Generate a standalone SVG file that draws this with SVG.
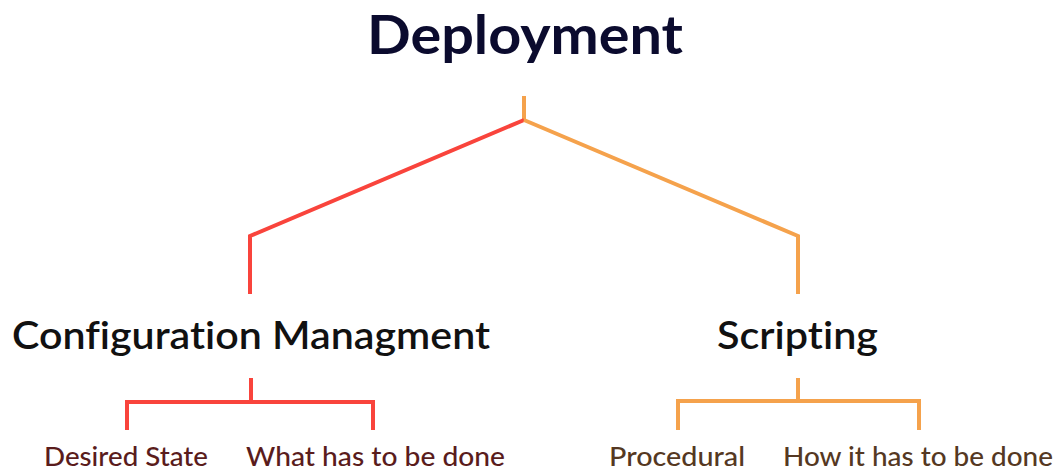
<svg xmlns="http://www.w3.org/2000/svg" width="1059" height="473" viewBox="0 0 1059 473">
  <style>
    text { font-variant-ligatures: none; font-feature-settings: "liga" 0, "clig" 0; }
    .title { font-family: "Lato", "Liberation Sans", sans-serif; font-weight: 700; font-size: 53px; fill: #0b0b2e; }
    .branch { font-family: "Lato", "Liberation Sans", sans-serif; font-weight: 600; font-size: 38px; fill: #111111; }
    .leaf { font-family: "Lato", "Liberation Sans", sans-serif; font-weight: 500; font-size: 26px; }
    .leaf-cm { fill: #5a1c1c; }
    .leaf-sc { fill: #553822; }
    .red { stroke: #f9443c; }
    .orange { stroke: #f5a24c; }
    .conn { fill: none; stroke-width: 4; stroke-linejoin: miter; }
  </style>
  <rect width="1059" height="473" fill="#ffffff"/>

  <g id="connectors">
    <!-- root stem and the two main branches -->
    <line class="conn orange" x1="524" y1="96" x2="524" y2="121"/>
    <polyline class="conn red" points="524,120 250,236 250,294"/>
    <polyline class="conn orange" points="524,120 798,236 798,294"/>
    <!-- configuration management bracket -->
    <line class="conn red" x1="251" y1="378" x2="251" y2="402"/>
    <polyline class="conn red" points="127,430 127,402 373,402 373,430"/>
    <!-- scripting bracket -->
    <line class="conn orange" x1="798" y1="378" x2="798" y2="401"/>
    <polyline class="conn orange" points="678,430 678,401 919,401 919,430"/>
  </g>

  <g id="deployment">
    <text class="title" x="525" y="54" text-anchor="middle" textLength="316" lengthAdjust="spacingAndGlyphs">Deployment</text>
  </g>
  <g id="configuration-management">
    <text class="branch" x="12" y="349" textLength="478" lengthAdjust="spacingAndGlyphs">Configuration Managment</text>
  </g>
  <g id="scripting">
    <text class="branch" x="717" y="349" textLength="161" lengthAdjust="spacingAndGlyphs">Scripting</text>
  </g>
  <g id="desired-state">
    <text class="leaf leaf-cm" x="44" y="466" textLength="164" lengthAdjust="spacingAndGlyphs">Desired State</text>
  </g>
  <g id="what-has-to-be-done">
    <text class="leaf leaf-cm" x="246" y="466" textLength="259" lengthAdjust="spacingAndGlyphs">What has to be done</text>
  </g>
  <g id="procedural">
    <text class="leaf leaf-sc" x="609" y="466" textLength="136" lengthAdjust="spacingAndGlyphs">Procedural</text>
  </g>
  <g id="how-it-has-to-be-done">
    <text class="leaf leaf-sc" x="783" y="466" textLength="270" lengthAdjust="spacingAndGlyphs">How it has to be done</text>
  </g>
</svg>
